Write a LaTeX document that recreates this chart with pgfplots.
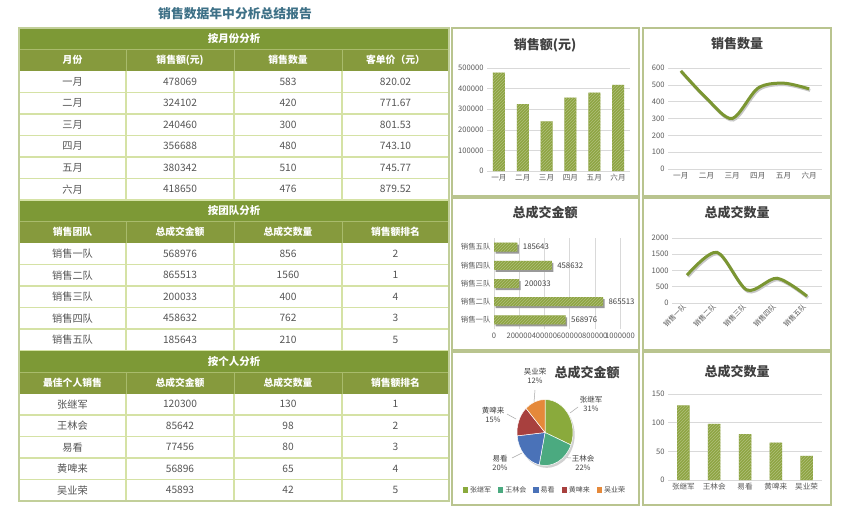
\documentclass[border=0pt]{standalone}
\usepackage{pgfplots}
\pgfplotsset{compat=1.18}
\usepackage{fontspec}
\setmainfont{Noto Sans CJK SC}
\usetikzlibrary{patterns}

\definecolor{sec}{HTML}{7D9936}
\definecolor{hdr}{HTML}{869A3D}
\definecolor{hsep}{HTML}{A9BB6C}
\definecolor{gridc}{HTML}{D5E2A5}
\definecolor{bord}{HTML}{C2CF9A}
\definecolor{txt}{HTML}{555555}
\definecolor{ttl}{HTML}{3E7187}
\definecolor{olive1}{HTML}{8EA442}
\definecolor{oliveline}{HTML}{7B9632}
\definecolor{panel}{HTML}{B9C48F}
\definecolor{tickc}{HTML}{595959}
\definecolor{gl}{HTML}{D9D9D9}
\definecolor{ctitle}{HTML}{404040}
\definecolor{p1}{HTML}{8AAA3C}
\definecolor{p2}{HTML}{4BAA80}
\definecolor{p3}{HTML}{4A72B8}
\definecolor{p4}{HTML}{A8403E}
\definecolor{p5}{HTML}{E5893A}

\pgfplotsset{
  dash/.style={
    scale only axis,
    axis x line*=bottom, axis y line*=left,
    y axis line style={draw=none},
    x axis line style={draw=gl},
    major tick length=0pt,
    tick label style={font=\fontsize{7.6}{9}\selectfont, text=tickc},
    ymajorgrids, grid style={draw=gl, line width=0.6pt},
    /pgf/number format/assume math mode=true,
    /pgf/number format/fixed,
    /pgf/number format/1000 sep={},
    scaled ticks=false,
    clip=false,
  },
  hatch/.style={fill=olive1, draw=none, postaction={pattern=north east lines, pattern color=white!30!olive1}},
}

\begin{document}
\begin{tikzpicture}
\useasboundingbox (0,0) rectangle (850pt,-524pt);
\fill[white] (0,0) rectangle (850pt,-524pt);

\begin{scope}[x=1pt,y=-1pt]
  % main title
  \node[font=\fontsize{12.8}{15}\selectfont\bfseries, text=ttl] at (235,14) {销售数据年中分析总结报告};

  % section and header bands
  \foreach \r in {0,8,15} {
    \fill[sec] (19,{28+\r*21.5}) rectangle (449,{28+(\r+1)*21.5});
    \fill[hdr] (19,{28+(\r+1)*21.5}) rectangle (449,{28+(\r+2)*21.5});
    \draw[hsep, line width=0.8pt] (19,{28+(\r+1)*21.5}) -- (449,{28+(\r+1)*21.5});
    \foreach \xx in {126,234,342}
      \draw[hsep, line width=1pt] (\xx,{28+(\r+1)*21.5}) -- (\xx,{28+(\r+2)*21.5});
  }
  % data grid
  \foreach \r/\n in {2/6,10/5,17/5} {
    \foreach \k in {1,...,\n}
      \draw[gridc, line width=1.2pt] (19,{28+(\r+\k)*21.5}) -- (449,{28+(\r+\k)*21.5});
    \foreach \xx in {126,234,342}
      \draw[gridc, line width=1.2pt] (\xx,{28+\r*21.5}) -- (\xx,{28+(\r+\n)*21.5});
  }
  \draw[bord, line width=1.5pt] (19,28) rectangle (449,501);

  % section titles
  \foreach \r/\t in {0/按月份分析, 8/按团队分析, 15/按个人分析}
    \node[font=\fontsize{10.5}{13}\selectfont\bfseries, text=white] at (234,{28+(\r+0.5)*21.5}) {\t};
  % header rows
  \foreach \r/\a/\b/\c/\d in {1/月份/销售额(元)/销售数量/客单价（元）,
                              9/销售团队/总成交金额/总成交数量/销售额排名,
                              16/最佳个人销售/总成交金额/总成交数量/销售额排名} {
    \pgfmathsetmacro\yy{28+(\r+0.5)*21.5}
    \node[font=\fontsize{9.8}{12}\selectfont\bfseries, text=white] at (72.5,\yy) {\a};
    \node[font=\fontsize{9.8}{12}\selectfont\bfseries, text=white] at (180,\yy) {\b};
    \node[font=\fontsize{9.8}{12}\selectfont\bfseries, text=white] at (288,\yy) {\c};
    \node[font=\fontsize{9.8}{12}\selectfont\bfseries, text=white] at (395.5,\yy) {\d};
  }
  % data rows
  \foreach \r/\a/\b/\c/\d in {2/一月/478069/583/820.02, 3/二月/324102/420/771.67,
      4/三月/240460/300/801.53, 5/四月/356688/480/743.10, 6/五月/380342/510/745.77,
      7/六月/418650/476/879.52,
      10/销售一队/568976/856/2, 11/销售二队/865513/1560/1, 12/销售三队/200033/400/4,
      13/销售四队/458632/762/3, 14/销售五队/185643/210/5,
      17/张继军/120300/130/1, 18/王林会/85642/98/2, 19/易看/77456/80/3,
      20/黄啤来/56896/65/4, 21/吴业荣/45893/42/5} {
    \pgfmathsetmacro\yy{28+(\r+0.5)*21.5}
    \node[font=\fontsize{10.2}{12}\selectfont, text=txt] at (72.5,\yy) {\a};
    \node[font=\fontsize{10.2}{12}\selectfont, text=txt] at (180,\yy) {\b};
    \node[font=\fontsize{10.2}{12}\selectfont, text=txt] at (288,\yy) {\c};
    \node[font=\fontsize{10.2}{12}\selectfont, text=txt] at (395.5,\yy) {\d};
  }

  % chart panels
  \draw[panel, line width=1.5pt] (452,28) rectangle (639,196);
  \draw[panel, line width=1.5pt] (643,28) rectangle (831,196);
  \draw[panel, line width=1.5pt] (452,198) rectangle (639,350);
  \draw[panel, line width=1.5pt] (643,198) rectangle (831,350);
  \draw[panel, line width=1.5pt] (452,352) rectangle (639,505);
  \draw[panel, line width=1.5pt] (643,352) rectangle (831,505);

  % chart titles
  \node[font=\fontsize{13}{15}\selectfont\bfseries, text=ctitle] at (545,45) {销售额(元)};
  \node[font=\fontsize{13}{15}\selectfont\bfseries, text=ctitle] at (737,44) {销售数量};
  \node[font=\fontsize{13}{15}\selectfont\bfseries, text=ctitle] at (545,213) {总成交金额};
  \node[font=\fontsize{13}{15}\selectfont\bfseries, text=ctitle] at (737,213) {总成交数量};
  \node[font=\fontsize{13}{15}\selectfont\bfseries, text=ctitle] at (587,373) {总成交金额};
  \node[font=\fontsize{13}{15}\selectfont\bfseries, text=ctitle] at (737,372) {总成交数量};

  % pie labels
  \begin{scope}[every node/.style={font=\fontsize{7.5}{9}\selectfont, text=ctitle, align=center}]
    \node at (535,376) {吴业荣\\12\%};
    \node at (591,404) {张继军\\31\%};
    \node at (583,463) {王林会\\22\%};
    \node at (500,463) {易看\\20\%};
    \node at (493,415) {黄啤来\\15\%};
  \end{scope}
  \begin{scope}[draw=black!35, line width=0.5pt]
    \draw (535,390) -- (534,402);
    \draw (578,407) -- (570,413);
    \draw (571,458) -- (560,457);
    \draw (512,458) -- (522,453);
    \draw (507,414) -- (516,419);
  \end{scope}
\end{scope}

% ---------- 销售额(元) ----------
\begin{axis}[dash, at={(487pt,-171pt)}, anchor=south west, width=143pt, height=103pt,
  xmin=-0.5, xmax=5.5, ymin=0, ymax=500000,
  ytick={0,100000,200000,300000,400000,500000},
  xtick={0,...,5}, xticklabels={一月,二月,三月,四月,五月,六月}]
\addplot[ybar, bar width=12pt, bar shift=0pt, hatch]
  coordinates {(0,478069) (1,324102) (2,240460) (3,356688) (4,380342) (5,418650)};
\end{axis}

% ---------- 销售数量 ----------
\begin{axis}[dash, at={(668pt,-169pt)}, anchor=south west, width=154pt, height=101pt,
  xmin=-0.5, xmax=5.5, ymin=0, ymax=600, ytick={0,100,...,600},
  xtick={0,...,5}, xticklabels={一月,二月,三月,四月,五月,六月}]
\addplot[smooth, line width=3pt, black!22, xshift=1pt, yshift=-1.5pt]
  coordinates {(0,583) (1,420) (2,300) (3,480) (4,510) (5,476)};
\addplot[smooth, line width=3pt, oliveline]
  coordinates {(0,583) (1,420) (2,300) (3,480) (4,510) (5,476)};
\end{axis}

% ---------- 总成交金额 (bars) ----------
\begin{axis}[dash, at={(494pt,-329pt)}, anchor=south west, width=126pt, height=91pt,
  xmin=0, xmax=1000000, ymin=-0.5, ymax=4.5,
  ymajorgrids=false, xmajorgrids,
  x axis line style={draw=none}, y axis line style={draw=gl},
  xtick={0,200000,400000,600000,800000,1000000},
  ytick={0,...,4}, yticklabels={销售一队,销售二队,销售三队,销售四队,销售五队},
  yticklabel style={font=\fontsize{7.4}{9}\selectfont}]
\addplot[xbar, bar width=9pt, bar shift=0pt, fill=black!40, draw=none, xshift=1.5pt, yshift=-2pt]
  coordinates {(568976,0) (865513,1) (200033,2) (458632,3) (185643,4)};
\addplot[xbar, bar width=9pt, bar shift=0pt, hatch, point meta=x,
  nodes near coords={\pgfmathprintnumber[fixed,1000 sep={},precision=0]{\pgfplotspointmeta}},
  nodes near coords style={font=\fontsize{7.8}{9}\selectfont, text=black!75, anchor=west, xshift=2pt}]
  coordinates {(568976,0) (865513,1) (200033,2) (458632,3) (185643,4)};
\end{axis}

% ---------- 总成交数量 (line) ----------
\begin{axis}[dash, at={(672pt,-303pt)}, anchor=south west, width=150pt, height=65pt,
  xmin=-0.5, xmax=4.5, ymin=0, ymax=2000, ytick={0,500,1000,1500,2000},
  xtick={0,...,4}, xticklabels={销售一队,销售二队,销售三队,销售四队,销售五队},
  xticklabel style={rotate=45, anchor=east, font=\fontsize{7}{8}\selectfont}]
\addplot[smooth, line width=3pt, black!22, xshift=1pt, yshift=-1.5pt]
  coordinates {(0,856) (1,1560) (2,400) (3,762) (4,210)};
\addplot[smooth, line width=3pt, oliveline]
  coordinates {(0,856) (1,1560) (2,400) (3,762) (4,210)};
\end{axis}

% ---------- 总成交数量 (bars) ----------
\begin{axis}[dash, at={(668pt,-480pt)}, anchor=south west, width=154pt, height=86pt,
  xmin=-0.5, xmax=4.5, ymin=0, ymax=150, ytick={0,50,100,150},
  xtick={0,...,4}, xticklabels={张继军,王林会,易看,黄啤来,吴业荣}]
\addplot[ybar, bar width=12.5pt, bar shift=0pt, hatch]
  coordinates {(0,130) (1,98) (2,80) (3,65) (4,42)};
\end{axis}

% ---------- pie ----------
\pgfkeys{/pgf/fpu=true,/pgf/fpu/output format=fixed}
\pgfmathsetmacro\ptot{120300+85642+77456+56896+45893}
\pgfmathsetmacro\aA{90}
\pgfmathsetmacro\aB{\aA-360*120300/\ptot}
\pgfmathsetmacro\aC{\aB-360*85642/\ptot}
\pgfmathsetmacro\aD{\aC-360*77456/\ptot}
\pgfmathsetmacro\aE{\aD-360*56896/\ptot}
\pgfmathsetmacro\aF{\aE-360*45893/\ptot}
\pgfkeys{/pgf/fpu=false}
\begin{axis}[at={(545pt,-432.5pt)}, anchor=center, x=28pt, y=33pt,
  xmin=-1, xmax=1, ymin=-1, ymax=1, hide axis, clip=false,
  legend columns=5,
  legend image code/.code={\fill[#1] (0pt,-2.6pt) rectangle (5.2pt,2.6pt);},
  legend style={at={(0.5,-0.37)}, anchor=center, draw=none, fill=none,
    font=\fontsize{7}{8}\selectfont, text=black!70, inner sep=0pt,
    /tikz/every odd column/.append style={column sep=0pt},
    /tikz/every even column/.append style={column sep=5pt}}]
\addlegendimage{fill=p1, draw=none}\addlegendentry{张继军}
\addlegendimage{fill=p2, draw=none}\addlegendentry{王林会}
\addlegendimage{fill=p3, draw=none}\addlegendentry{易看}
\addlegendimage{fill=p4, draw=none}\addlegendentry{黄啤来}
\addlegendimage{fill=p5, draw=none}\addlegendentry{吴业荣}
\fill[black!18] (axis cs:0.06,-0.07) ellipse [x radius=28pt, y radius=33pt];
\filldraw[fill=p1, draw=white, line width=0.5pt] (axis cs:0,0) -- (axis cs:{cos(\aA)},{sin(\aA)}) arc[start angle=\aA, end angle=\aB, x radius=28pt, y radius=33pt] -- cycle;
\filldraw[fill=p2, draw=white, line width=0.5pt] (axis cs:0,0) -- (axis cs:{cos(\aB)},{sin(\aB)}) arc[start angle=\aB, end angle=\aC, x radius=28pt, y radius=33pt] -- cycle;
\filldraw[fill=p3, draw=white, line width=0.5pt] (axis cs:0,0) -- (axis cs:{cos(\aC)},{sin(\aC)}) arc[start angle=\aC, end angle=\aD, x radius=28pt, y radius=33pt] -- cycle;
\filldraw[fill=p4, draw=white, line width=0.5pt] (axis cs:0,0) -- (axis cs:{cos(\aD)},{sin(\aD)}) arc[start angle=\aD, end angle=\aE, x radius=28pt, y radius=33pt] -- cycle;
\filldraw[fill=p5, draw=white, line width=0.5pt] (axis cs:0,0) -- (axis cs:{cos(\aE)},{sin(\aE)}) arc[start angle=\aE, end angle=\aF, x radius=28pt, y radius=33pt] -- cycle;
\end{axis}
\end{tikzpicture}
\end{document}
